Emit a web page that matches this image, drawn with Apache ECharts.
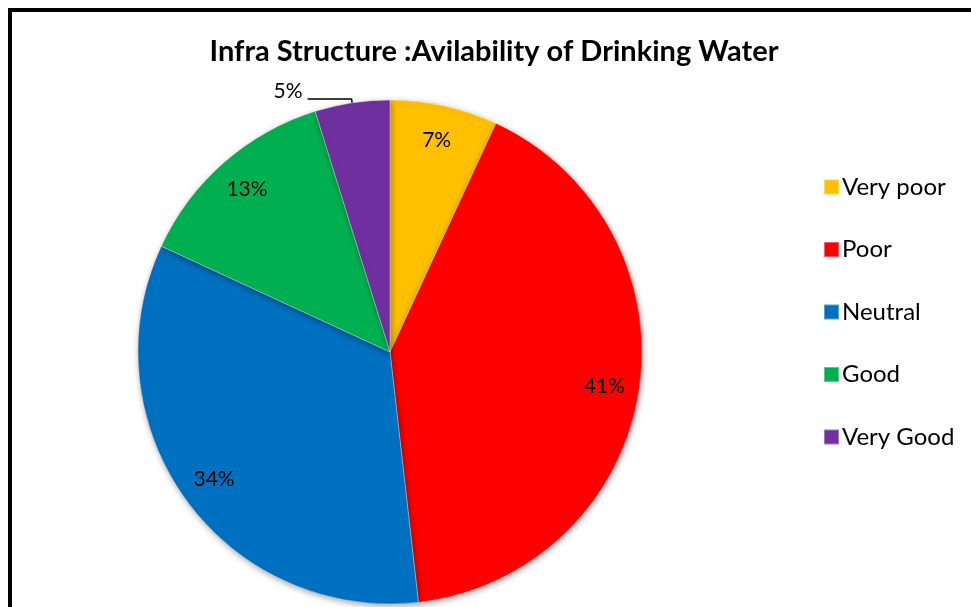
<!DOCTYPE html>
<html>
<head>
<meta charset="utf-8">
<script src="https://cdn.jsdelivr.net/npm/echarts@6/dist/echarts.min.js"></script>
<style>
html,body{margin:0;padding:0;background:#fff;overflow:hidden;}
#chart{position:absolute;left:0;top:0;width:971px;height:607px;}
#frame{position:absolute;left:8px;top:8px;width:990px;height:640px;border:4px solid #000;box-sizing:border-box;pointer-events:none;}
</style>
</head>
<body>
<div id="chart"></div>
<div id="frame"></div>
<script>
const titleText = 'Infra Structure :Avilability of Drinking Water';
const categories = ['Very poor', 'Poor', 'Neutral', 'Good', 'Very Good'];
const values = [6.9, 41.3, 33.7, 13.3, 4.8];
const colors = ['#FFC000', '#FF0000', '#0070C0', '#00B050', '#7030A0'];

const FONT = 'Lato';
const chart = echarts.init(document.getElementById('chart'), null, {renderer: 'canvas'});

const baseData = categories.map((c, i) => ({
  name: c, value: values[i], itemStyle: {color: colors[i]}
}));
const labelData = categories.map((c, i) => {
  const d = {name: c, value: values[i], itemStyle: {color: 'rgba(0,0,0,0)'}};
  if (i === 4) {
    d.label = {position: 'outside', show: true};
    d.labelLine = {show: true, length: 4, length2: 44, lineStyle: {color: '#000', width: 1.5}};
  }
  return d;
});

chart.setOption({
  backgroundColor: '#fff',
  animation: false,
  title: {
    text: titleText, left: 489, top: 32, textAlign: 'center',
    textStyle: {fontFamily: FONT, fontWeight: 'bold', fontSize: 29, color: '#000'}
  },
  legend: {
    orient: 'vertical', left: 818, top: 170, itemGap: 38.5, itemWidth: 15, itemHeight: 15,
    icon: 'rect',
    data: categories,
    textStyle: {fontFamily: FONT, fontSize: 24, color: '#000', padding: [0,0,0,-2]}
  },
  series: [
    {
      type: 'pie', center: [390, 352], radius: [0, 252], startAngle: 90, clockwise: true,
      label: {show: false}, labelLine: {show: false}, silent: true,
      itemStyle: {borderColor: 'rgba(255,255,255,0.35)', borderWidth: 1, shadowBlur: 6, shadowColor: 'rgba(0,0,0,0.35)', shadowOffsetX: 1, shadowOffsetY: 2},
      data: baseData
    },
    {
      type: 'pie', center: [390, 352], radius: [176, 252], startAngle: 90, clockwise: true,
      silent: true, legendHoverLink: false,
      label: {show: true, position: 'inside', formatter: p => Math.round(p.value) + '%',
        fontFamily: FONT, fontSize: 21, color: '#000'},
      labelLine: {show: false},
      labelLayout: p => (p.dataIndex === 4 ? {dy: -8} : {}),
      data: labelData
    }
  ]
});
</script>
</body>
</html>
